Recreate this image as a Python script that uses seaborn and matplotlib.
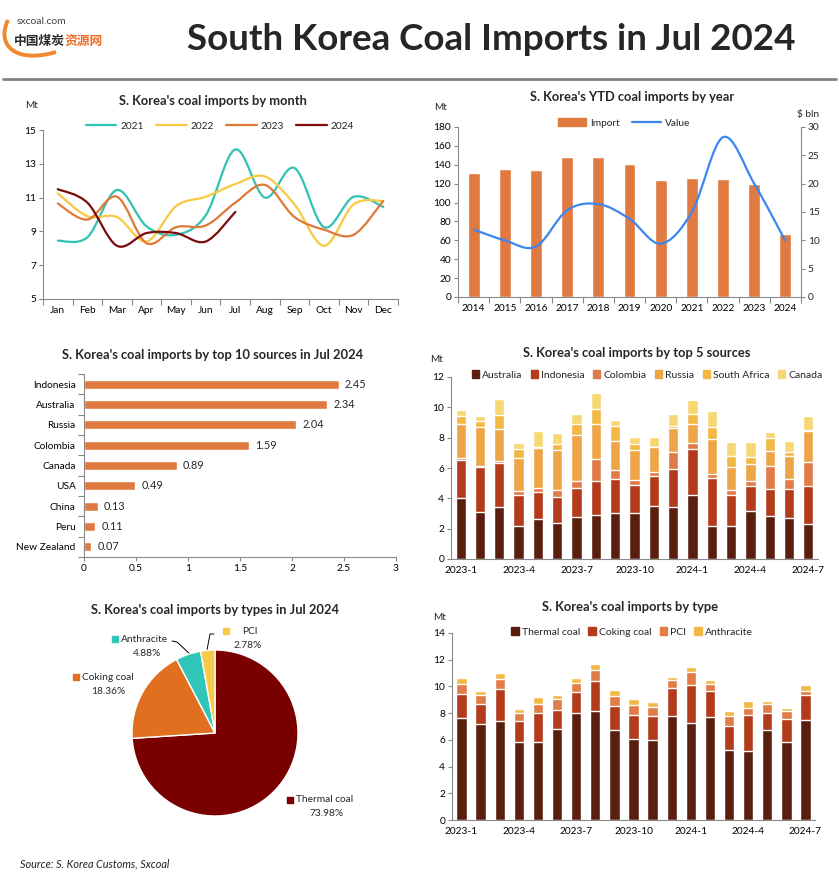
import numpy as np
import seaborn as sns
import matplotlib.pyplot as plt
from matplotlib.path import Path
from matplotlib.patches import PathPatch, Patch
from matplotlib.lines import Line2D

# ---- data ----
months = ['Jan', 'Feb', 'Mar', 'Apr', 'May', 'Jun', 'Jul', 'Aug', 'Sep', 'Oct', 'Nov', 'Dec']
imp_2021 = [8.45, 8.65, 11.45, 9.3, 8.8, 9.95, 13.85, 11.0, 12.75, 9.25, 11.05, 10.45]
imp_2022 = [11.25, 9.9, 9.85, 8.4, 10.5, 11.05, 11.8, 12.25, 10.6, 8.15, 10.6, 10.8]
imp_2023 = [10.65, 9.7, 11.05, 8.3, 9.25, 9.35, 10.7, 11.75, 9.85, 9.1, 8.8, 10.8]
imp_2024 = [11.5, 10.7, 8.15, 8.9, 8.9, 8.4, 10.15]

years = ['2014', '2015', '2016', '2017', '2018', '2019', '2020', '2021', '2022', '2023', '2024']
ytd_import = [131, 135.2, 134.1, 147.9, 147.9, 140.5, 123.5, 125.7, 124.6, 119.3, 66.4]
ytd_value = [11.9, 10.0, 8.9, 15.3, 16.4, 13.8, 9.4, 15.0, 28.2, 20.0, 9.9]

top_countries = ['Indonesia', 'Australia', 'Russia', 'Colombia', 'Canada', 'USA', 'China', 'Peru', 'New Zealand']
top_values = [2.45, 2.34, 2.04, 1.59, 0.89, 0.49, 0.13, 0.11, 0.07]

periods = ['2023-1', '2023-2', '2023-3', '2023-4', '2023-5', '2023-6', '2023-7', '2023-8', '2023-9',
           '2023-10', '2023-11', '2023-12', '2024-1', '2024-2', '2024-3', '2024-4', '2024-5',
           '2024-6', '2024-7']
period_ticks = ['2023-1', '2023-4', '2023-7', '2023-10', '2024-1', '2024-4', '2024-7']

australia = [4.03, 3.11, 3.46, 2.18, 2.64, 2.38, 2.78, 2.91, 3.04, 3.04, 3.50, 3.44, 4.23, 2.18, 2.18, 3.17, 2.84, 2.71, 2.34]
indonesia = [2.51, 2.97, 2.88, 2.01, 1.79, 1.74, 1.91, 2.24, 2.25, 1.85, 1.98, 2.51, 3.04, 3.17, 2.05, 1.65, 1.79, 1.92, 2.45]
colombia = [0.13, 0.02, 0.14, 0.30, 0.26, 0.44, 0.46, 1.46, 0.59, 0.33, 0.27, 1.12, 0.40, 0.27, 0.33, 0.33, 1.52, 0.66, 1.59]
russia = [2.25, 2.58, 2.11, 2.14, 2.64, 2.64, 3.04, 2.31, 1.92, 1.98, 1.65, 1.59, 1.25, 2.31, 1.52, 1.13, 0.99, 1.52, 2.04]
south_africa = [0.53, 0.39, 0.93, 0.64, 0.07, 0.40, 0.73, 0.99, 0.99, 0.40, 0.0, 0.13, 0.66, 0.79, 0.73, 0.46, 0.86, 0.26, 0.09]
canada = [0.35, 0.33, 1.05, 0.40, 1.06, 0.73, 0.66, 1.06, 0.40, 0.46, 0.66, 0.79, 0.93, 1.06, 0.92, 0.99, 0.39, 0.73, 0.89]

thermal = [7.65, 7.2, 7.43, 5.85, 5.85, 6.83, 8.03, 8.18, 6.75, 6.08, 6.0, 7.8, 7.28, 7.73, 5.25, 5.13, 6.75, 5.85, 7.49]
coking = [1.8, 1.5, 2.4, 1.58, 2.18, 1.42, 1.57, 2.25, 1.8, 1.8, 1.8, 2.1, 2.85, 1.95, 1.8, 2.75, 1.28, 1.73, 1.86]
pci = [0.75, 0.68, 0.75, 0.6, 0.67, 0.83, 0.68, 0.82, 0.75, 0.75, 0.68, 0.6, 0.97, 0.52, 0.75, 0.52, 0.67, 0.6, 0.28]
anthracite = [0.45, 0.3, 0.45, 0.3, 0.53, 0.3, 0.37, 0.45, 0.45, 0.45, 0.37, 0.23, 0.38, 0.3, 0.38, 0.53, 0.23, 0.22, 0.49]

pie_labels = ['Thermal coal', 'Coking coal', 'Anthracite', 'PCI']
pie_share = [73.98, 18.36, 4.88, 2.78]

# ---- style ----
sns.set_theme(style='white')
plt.rcParams['font.family'] = ['Lato', 'Noto Sans CJK SC', 'DejaVu Sans']

GRAY = '#898989'
ORANGE = '#e07a40'
W, H = 839, 883

fig = plt.figure(figsize=(W / 100, H / 100), dpi=100)
fig.patch.set_facecolor('white')

# overlay in pixel coords for titles and free text
hax = fig.add_axes([0, 0, 1, 1])
hax.set_xlim(0, W)
hax.set_ylim(H, 0)
hax.axis('off')


def add_ax(l, t, r, b):
    return fig.add_axes([l / W, 1 - b / H, (r - l) / W, (b - t) / H])


def style(ax):
    sns.despine(ax=ax)
    for s in ['left', 'bottom']:
        ax.spines[s].set_color(GRAY)
        ax.spines[s].set_linewidth(0.8)
    ax.tick_params(axis='both', which='both', labelsize=7.3, labelcolor='black', color=GRAY,
                   length=3, width=0.8, pad=2, bottom=True, left=True)
    ax.set_xlabel('')
    ax.set_ylabel('')
    ax.grid(False)


def boundary_xticks(ax, labels):
    n = len(labels)
    ax.set_xticks(np.arange(-0.5, n, 1))
    ax.set_xticklabels([])
    ax.set_xticks(range(n), labels, minor=True)
    ax.tick_params(axis='x', which='minor', length=0, pad=5)
    ax.tick_params(axis='x', which='major', length=4)
    ax.set_xlim(-0.5, n - 0.5)


def smooth_path(x, y):
    # excel style smoothed line through the points
    pts = np.column_stack([x, y]).astype(float)
    n = len(pts)
    verts = [pts[0]]
    codes = [Path.MOVETO]
    for i in range(n - 1):
        p0 = pts[i - 1] if i > 0 else pts[i]
        p1, p2 = pts[i], pts[i + 1]
        p3 = pts[i + 2] if i + 2 < n else pts[i + 1]
        verts += [p1 + (p2 - p0) / 6, p2 - (p3 - p1) / 6, p2]
        codes += [Path.CURVE4] * 3
    return Path(verts, codes)


def title(x, y, s):
    hax.text(x, y, s, ha='center', va='center', fontsize=9.3, weight='bold')


def unit(x, y, s):
    hax.text(x, y, s, ha='center', va='center', fontsize=7.3)


# ---- header ----
hax.text(187, 40, 'South Korea Coal Imports in Jul 2024', ha='left', va='center',
         fontsize=26.5, weight='bold')
hax.plot([3, 836], [79, 79], color='#808080', lw=2)
swoosh = Path([(8, 20), (-4, 45), (15, 64), (56, 52)],
              [Path.MOVETO, Path.CURVE4, Path.CURVE4, Path.CURVE4])
hax.add_patch(PathPatch(swoosh, fill=False, edgecolor='#f08a2c', lw=2.8))
hax.text(17, 22, 'sxcoal.com', fontsize=7.5, color='#444444', va='center')
hax.text(14, 41, '中国煤炭', fontsize=9.2, weight='bold', color='#2b2b2b', va='center',
         family=['Noto Sans CJK SC'])
hax.text(64.5, 41, '资源网', fontsize=9.2, weight='bold', color='#ec6d2c', va='center',
         family=['Noto Sans CJK SC'])

# ---- 1: monthly lines ----
ax1 = add_ax(43, 130, 398, 299)
line_cols = ['#31c1b1', '#f8c940', '#e07838', '#7a0c0c']
series = [imp_2021, imp_2022, imp_2023, imp_2024]
for vals, col in zip(series, line_cols):
    ax1.add_patch(PathPatch(smooth_path(np.arange(len(vals)), vals), fill=False,
                            edgecolor=col, lw=1.6, capstyle='round'))
ax1.set_ylim(5, 15)
ax1.set_yticks(range(5, 16, 2))
style(ax1)
boundary_xticks(ax1, months)
title(213, 101, "S. Korea's coal imports by month")
unit(32, 105, 'Mt')
fig.legend([Line2D([], [], color=c, lw=1.6) for c in line_cols], ['2021', '2022', '2023', '2024'],
           loc='center', bbox_to_anchor=(220 / W, 1 - 126 / H), ncol=4, frameon=False,
           fontsize=7.3, handlelength=3, columnspacing=1.2, handletextpad=0.4)

# ---- 2: YTD bars + value ----
ax2 = add_ax(458, 127, 801, 297)
sns.barplot(x=years, y=ytd_import, color=ORANGE, saturation=1, width=0.38, ax=ax2)
ax2.set_ylim(0, 180)
ax2.set_yticks(range(0, 181, 20))
style(ax2)
boundary_xticks(ax2, years)
ax2b = ax2.twinx()
ax2b.add_patch(PathPatch(smooth_path(np.arange(len(ytd_value)), ytd_value), fill=False,
                         edgecolor='#3d85f0', lw=1.6))
ax2b.set_ylim(0, 30)
ax2b.set_yticks(range(0, 31, 5))
for s in ['top', 'left', 'bottom']:
    ax2b.spines[s].set_visible(False)
ax2b.spines['right'].set_color(GRAY)
ax2b.spines['right'].set_linewidth(0.8)
ax2b.tick_params(axis='y', labelsize=7.3, color=GRAY, length=3, width=0.8, pad=2, right=True)
ax2b.grid(False)
title(632, 97, "S. Korea's YTD coal imports by year")
unit(441, 107, 'Mt')
unit(808, 115, '$ bln')
fig.legend([Patch(color=ORANGE), Line2D([], [], color='#3d85f0', lw=1.6)], ['Import', 'Value'],
           loc='center', bbox_to_anchor=(624 / W, 1 - 123 / H), ncol=2, frameon=False,
           fontsize=7.3, handlelength=2.8, handleheight=0.8, columnspacing=1.2, handletextpad=0.4)

# ---- 3: top sources in Jul ----
ax3 = add_ax(84, 374, 396, 557)
sns.barplot(x=top_values, y=top_countries, orient='h', color=ORANGE, saturation=1,
            width=0.45, ax=ax3)
ax3.set_xlim(0, 3)
ax3.set_xticks(np.arange(0, 3.01, 0.5), ['0', '0.5', '1', '1.5', '2', '2.5', '3'])
style(ax3)
ax3.set_yticks(np.arange(-0.5, len(top_countries), 1))
ax3.set_yticklabels([])
ax3.set_yticks(range(len(top_countries)), top_countries, minor=True)
ax3.tick_params(axis='y', which='minor', length=0, pad=6)
ax3.tick_params(axis='y', which='major', length=4)
ax3.set_ylim(len(top_countries) - 0.5, -0.5)
for i, v in enumerate(top_values):
    ax3.text(v + 0.06, i, f'{v:.2f}', va='center', fontsize=7.8)
title(213, 355, "S. Korea's coal imports by top 10 sources in Jul 2024")
unit(378, 543, 'Mt')

# ---- 4: top 5 sources stacked ----
ax4 = add_ax(451, 377, 818, 559)
src_names = ['Australia', 'Indonesia', 'Colombia', 'Russia', 'South Africa', 'Canada']
src_cols = ['#591e0e', '#b23b1b', '#e07a48', '#eda548', '#f3b744', '#f7d674']
src_cum = np.cumsum([australia, indonesia, colombia, russia, south_africa, canada], axis=0)
for k in reversed(range(len(src_names))):
    sns.barplot(x=periods, y=src_cum[k], color=src_cols[k], saturation=1, width=0.53, ax=ax4)
ax4.set_ylim(0, 12)
ax4.set_yticks(range(0, 13, 2))
style(ax4)
ax4.set_xticks([periods.index(p) for p in period_ticks], period_ticks)
ax4.tick_params(axis='x', length=0, pad=5)
ax4.set_xlim(-0.5, len(periods) - 0.5)
title(637, 353, "S. Korea's coal imports by top 5 sources")
unit(437, 359, 'Mt')
fig.legend([Patch(color=c) for c in src_cols], src_names, loc='center',
           bbox_to_anchor=(647 / W, 1 - 375 / H), ncol=6, frameon=False, fontsize=7.5,
           handlelength=0.7, handleheight=0.7, columnspacing=0.8, handletextpad=0.3)

# ---- 5: pie by type ----
ax5 = add_ax(132, 650, 298, 816)
pie_cols = ['#7a0000', '#e07020', '#31c4b8', '#f5cb47']
ax5.pie(pie_share, colors=pie_cols, startangle=90, counterclock=False, radius=1)
ax5.set_xlim(-1, 1)
ax5.set_ylim(-1, 1)
ax5.set_aspect('equal')
title(215, 610, "S. Korea's coal imports by types in Jul 2024")


def pie_label(xs, y, name, pct, col, xc):
    hax.scatter([xs], [y], marker='s', s=14, color=col)
    hax.text(xs + 6, y, name, fontsize=7.3, va='center')
    hax.text(xc, y + 14, pct, fontsize=7.3, va='center', ha='center')


pie_label(290, 800, 'Thermal coal', '73.98%', pie_cols[0], 327)
pie_label(76, 677, 'Coking coal', '18.36%', pie_cols[1], 108)
pie_label(115, 639, 'Anthracite', '4.88%', pie_cols[2], 147)
pie_label(226, 631, '', '2.78%', pie_cols[3], 248)
hax.text(242, 631, 'PCI', fontsize=7.3, va='center')
hax.plot([172, 177, 191], [641, 642, 655], color='black', lw=0.7)
hax.plot([214, 210, 207], [634, 634, 650], color='black', lw=0.7)

# ---- 6: stacked by type ----
ax6 = add_ax(452, 633, 815, 820)
type_names = ['Thermal coal', 'Coking coal', 'PCI', 'Anthracite']
type_cols = ['#591e0e', '#b23b1b', '#e07c45', '#f2b846']
type_cum = np.cumsum([thermal, coking, pci, anthracite], axis=0)
for k in reversed(range(len(type_names))):
    sns.barplot(x=periods, y=type_cum[k], color=type_cols[k], saturation=1, width=0.54, ax=ax6)
ax6.set_ylim(0, 14)
ax6.set_yticks(range(0, 15, 2))
style(ax6)
ax6.set_xticks([periods.index(p) for p in period_ticks], period_ticks)
ax6.tick_params(axis='x', length=0, pad=5)
ax6.set_xlim(-0.5, len(periods) - 0.5)
title(630, 607, "S. Korea's coal imports by type")
unit(440, 617, 'Mt')
fig.legend([Patch(color=c) for c in type_cols], type_names, loc='center',
           bbox_to_anchor=(632 / W, 1 - 632 / H), ncol=4, frameon=False, fontsize=7.5,
           handlelength=0.7, handleheight=0.7, columnspacing=0.8, handletextpad=0.3)

hax.text(20, 864, 'Source: S. Korea Customs, Sxcoal', fontsize=7.8, style='italic',
         color='#222222', va='center')

fig.savefig('out.png', dpi=100, facecolor='white')
